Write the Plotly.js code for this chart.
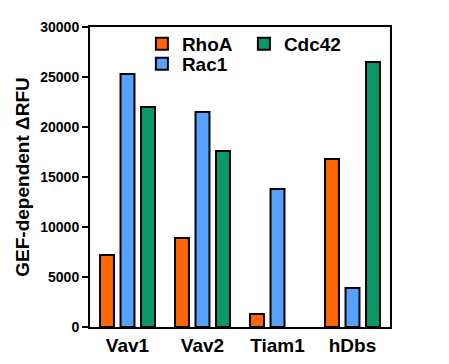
<!DOCTYPE html>
<html>
<head>
<meta charset="utf-8">
<script src="https://cdn.plot.ly/plotly-3.0.1.min.js"></script>
<style>html,body{margin:0;padding:0;background:#fff}#chart{width:449px;height:364px}</style>
</head>
<body>
<div id="chart"></div>
<script>
var categories = ["Vav1", "Vav2", "Tiam1", "hDbs"];
var rhoA = [7200, 8900, 1300, 16800];
var rac1 = [25300, 21500, 13800, 3900];
var cdc42 = [22000, 17600, null, 26500];
var yTicks = [0, 5000, 10000, 15000, 20000, 25000, 30000];

var edge = {width: 2, color: "#000"};
var traces = [
  {type: "bar", name: "RhoA", x: categories, y: rhoA, marker: {color: "#FF6600", line: edge}, legend: "legend"},
  {type: "bar", name: "Rac1", x: categories, y: rac1, marker: {color: "#57A1FF", line: edge}, legend: "legend3"},
  {type: "bar", name: "Cdc42", x: categories, y: cdc42, marker: {color: "#0A9966", line: edge}, legend: "legend2"}
];

var fam = "Liberation Sans, Arial, sans-serif";
var legFont = {family: fam, size: 19, color: "#000", weight: "bold"};
var layout = {
  width: 449, height: 364,
  margin: {l: 90, r: 59, t: 27, b: 37},
  paper_bgcolor: "#fff", plot_bgcolor: "#fff",
  showlegend: true,
  barmode: "group", bargap: 0.18, bargroupgap: 0.32,
  font: {family: fam, color: "#000"},
  xaxis: {
    type: "category", range: [-0.5, 3.5],
    showline: true, linecolor: "#000", linewidth: 2, mirror: true,
    ticks: "", showgrid: false, zeroline: false,
    tickfont: {family: fam, size: 19, color: "#000", weight: "bold"}
  },
  yaxis: {
    range: [0, 30000], tickvals: yTicks, ticktext: yTicks.map(String),
    showline: true, linecolor: "#000", linewidth: 2, mirror: true,
    ticks: "outside", ticklen: 6, tickwidth: 2, tickcolor: "#000",
    showgrid: false, zeroline: false,
    tickfont: {family: fam, size: 14, color: "#000", weight: "bold"},
    title: {text: "GEF-dependent ΔRFU", standoff: 6, font: {family: fam, size: 19, color: "#000", weight: "bold"}}
  },
  legend: {x: 0.173, y: 1.007, xanchor: "left", yanchor: "top", bgcolor: "rgba(0,0,0,0)", font: legFont},
  legend2: {x: 0.513, y: 1.007, xanchor: "left", yanchor: "top", bgcolor: "rgba(0,0,0,0)", font: legFont},
  legend3: {x: 0.173, y: 0.94, xanchor: "left", yanchor: "top", bgcolor: "rgba(0,0,0,0)", font: legFont}
};

Plotly.newPlot("chart", traces, layout, {displayModeBar: false, staticPlot: true});
</script>
</body>
</html>
